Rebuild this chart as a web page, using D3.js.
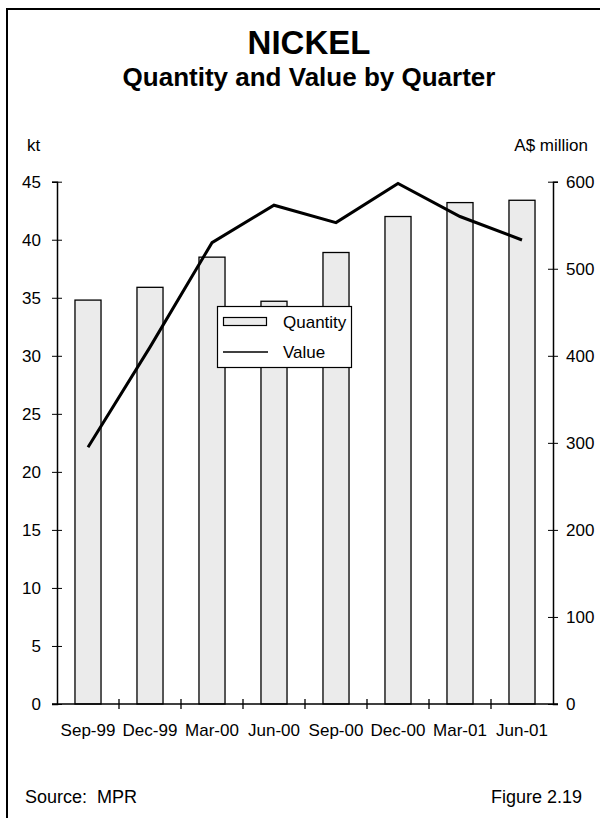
<!DOCTYPE html>
<html><head><meta charset="utf-8">
<script src="https://cdn.jsdelivr.net/npm/d3@7"></script>
<style>
html,body{margin:0;padding:0;background:#fff;}
svg{display:block;font-family:"Liberation Sans",Arial,sans-serif;}
</style></head>
<body>
<svg id="c" width="600" height="818"></svg>
<script>
const categories = ["Sep-99","Dec-99","Mar-00","Jun-00","Sep-00","Dec-00","Mar-01","Jun-01"];
const quantity = [34.8, 35.9, 38.5, 34.7, 38.9, 42.0, 43.2, 43.4];
const value = [295, 410, 530, 573, 553, 598, 560, 533];
const leftTicks = [0,5,10,15,20,25,30,35,40,45];
const rightTicks = [0,100,200,300,400,500,600];

const FS = 17;
const FF = "Liberation Sans, Arial, sans-serif";
const svg = d3.select("#c");
const L = 57, R = 553, T = 181.7, B = 704;

// frame
svg.append("path").attr("d", "M7,818 V9 H600").attr("fill","none").attr("stroke","#000").attr("stroke-width",2);

// titles
svg.append("text").attr("x",309).attr("y",53.5).attr("text-anchor","middle")
  .attr("font-size",33).attr("font-weight","bold").text("NICKEL");
svg.append("text").attr("x",309).attr("y",86).attr("text-anchor","middle")
  .attr("font-size",26).attr("font-weight","bold").text("Quantity and Value by Quarter");

const xOuter = d3.scaleBand().domain(categories).range([L,R]).padding(0);
const xBar = d3.scaleBand().domain(categories).range([L,R]).paddingInner(0.58).paddingOuter(0.29);
const yL = d3.scaleLinear().domain([0,45]).range([B,T]);
const yR = d3.scaleLinear().domain([0,600]).range([B,T]);

// bars
svg.append("g").selectAll("rect").data(categories).join("rect")
  .attr("x", d=>xBar(d)).attr("width", xBar.bandwidth())
  .attr("y", (d,i)=>yL(quantity[i])).attr("height",(d,i)=>B-yL(quantity[i]))
  .attr("fill","#ebebeb").attr("stroke","#000").attr("stroke-width",1.3);

// left axis
const gl = svg.append("g").attr("transform",`translate(${L},0)`)
  .call(d3.axisLeft(yL).tickValues(leftTicks).tickSizeOuter(0).tickSize(5).tickPadding(11));
gl.selectAll(".tick line").attr("x1",-5).attr("x2",5);
gl.select(".domain").attr("stroke-width",1.5);
gl.selectAll("text").attr("font-size",FS).attr("font-family",FF).attr("fill","#000");

// right axis
const gr = svg.append("g").attr("transform",`translate(${R},0)`)
  .call(d3.axisRight(yR).tickValues(rightTicks).tickSizeOuter(0).tickSize(5).tickPadding(8));
gr.selectAll(".tick line").attr("x1",-5).attr("x2",5);
gr.select(".domain").attr("stroke-width",1.5);
gr.selectAll("text").attr("font-size",FS).attr("font-family",FF).attr("fill","#000");

// bottom axis
svg.append("line").attr("x1",L-5).attr("x2",R+5).attr("y1",B).attr("y2",B).attr("stroke","#000").attr("stroke-width",1.5);
const bounds = categories.map(c=>xOuter(c)).concat([xOuter(categories[7])+xOuter.step()]);
svg.append("g").selectAll("line").data(bounds.slice(1,8)).join("line")
  .attr("x1",d=>d).attr("x2",d=>d).attr("y1",B-5).attr("y2",B+5).attr("stroke","#000").attr("stroke-width",1.3);
const gb = svg.append("g").attr("transform",`translate(0,${B})`)
  .call(d3.axisBottom(xBar).tickSize(0).tickPadding(20));
gb.select(".domain").remove();
gb.selectAll("text").attr("font-size",FS).attr("font-family",FF).attr("fill","#000");

// value line
const line = d3.line().x((d,i)=>xBar(categories[i])+xBar.bandwidth()/2).y(d=>yR(d));
svg.append("path").datum(value).attr("d",line).attr("fill","none").attr("stroke","#000")
  .attr("stroke-width",3).attr("stroke-linejoin","miter");

// axis titles
svg.append("text").attr("x",27).attr("y",151).attr("font-size",FS).text("kt");
svg.append("text").attr("x",588).attr("y",151).attr("text-anchor","end").attr("font-size",FS).text("A$ million");

// legend
const lg = svg.append("g");
lg.append("rect").attr("x",217.5).attr("y",306.5).attr("width",134).attr("height",61)
  .attr("fill","#fff").attr("stroke","#000").attr("stroke-width",1.2);
lg.append("rect").attr("x",223.5).attr("y",317.5).attr("width",43).attr("height",8)
  .attr("fill","#ebebeb").attr("stroke","#000").attr("stroke-width",1.2);
lg.append("line").attr("x1",223).attr("x2",268).attr("y1",352).attr("y2",352).attr("stroke","#000").attr("stroke-width",1.3);
lg.append("text").attr("x",283).attr("y",328).attr("font-size",FS).text("Quantity");
lg.append("text").attr("x",283).attr("y",358).attr("font-size",FS).text("Value");

// footer
svg.append("text").attr("x",25).attr("y",803).attr("font-size",18).style("white-space","pre").text("Source:  MPR");
svg.append("text").attr("x",582).attr("y",803).attr("text-anchor","end").attr("font-size",18).text("Figure 2.19");
</script>
</body></html>
